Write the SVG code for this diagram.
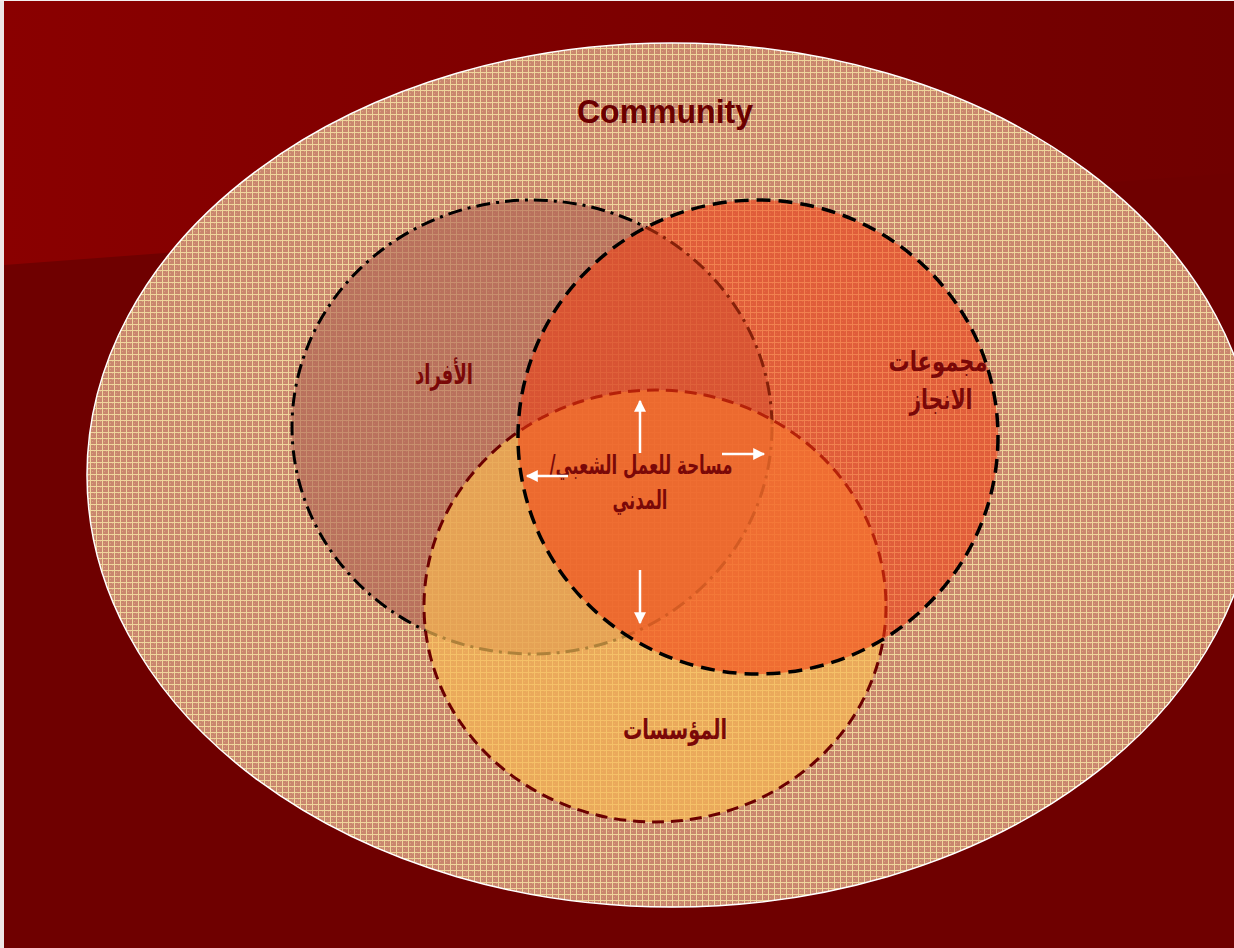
<svg xmlns="http://www.w3.org/2000/svg" width="1234" height="948" viewBox="0 0 1234 948">
  <style>
    .ar { font-family: "DejaVu Sans", "Liberation Sans", sans-serif; font-weight: bold; fill: #7A0808; text-anchor: middle; direction: rtl; }
    .conn { stroke: #FFFFFF; stroke-width: 2.5; fill: none; marker-end: url(#arrow); }
  </style>
  <defs>
    <linearGradient id="topBand" x1="0" y1="0" x2="1" y2="0">
      <stop offset="0" stop-color="#8A0000"/>
      <stop offset="1" stop-color="#700000"/>
    </linearGradient>
    <pattern id="tex" x="0" y="0" width="6" height="6" patternUnits="userSpaceOnUse">
      <rect width="6" height="6" fill="#C9866E"/>
      <rect x="2" y="3" width="1" height="1" fill="#D9A080"/>
      <rect x="4" y="1" width="1" height="1" fill="#D9A080"/>
      <rect x="0" y="0" width="6" height="1" fill="#EFD69C"/>
      <rect x="0" y="0" width="1" height="6" fill="#EFD69C"/>
    </pattern>
    <marker id="arrow" viewBox="0 0 10 10" refX="9" refY="5" markerWidth="13" markerHeight="12" markerUnits="userSpaceOnUse" orient="auto">
      <path d="M0,0 L10,5 L0,10 Z" fill="#FFFFFF"/>
    </marker>
  </defs>

  <g id="background">
    <rect x="0" y="0" width="1234" height="948" fill="#6F0000"/>
    <polygon points="4,0 1234,0 1234,173 4,265" fill="url(#topBand)"/>
    <rect x="0" y="0" width="4" height="948" fill="#EEE6E6"/>
    <rect x="0" y="0" width="1234" height="1" fill="#F4EEEE"/>
  </g>

  <g id="community">
    <ellipse cx="672" cy="475" rx="585" ry="432" fill="url(#tex)" stroke="#FFFFFF" stroke-width="1.5"/>
    <text x="665" y="123" font-family="Liberation Sans, Arial, sans-serif" font-weight="bold" font-size="34" fill="#6B0000" text-anchor="middle" textLength="176" lengthAdjust="spacingAndGlyphs">Community</text>
  </g>

  <g id="node-afrad">
    <ellipse cx="532" cy="427" rx="240" ry="227" fill="#B06453" fill-opacity="0.62" stroke="#000000" stroke-width="3" stroke-dasharray="14 6 3 6"/>
    <text class="ar" x="444" y="384" font-size="28" textLength="58" lengthAdjust="spacingAndGlyphs">الأفراد</text>
  </g>

  <g id="node-muassasat">
    <ellipse cx="655" cy="606" rx="231" ry="216" fill="#F8B852" fill-opacity="0.7" stroke="#6B0000" stroke-width="3" stroke-dasharray="12 7"/>
    <text class="ar" x="675" y="739" font-size="28" textLength="104" lengthAdjust="spacingAndGlyphs">المؤسسات</text>
  </g>

  <g id="node-majmuat">
    <ellipse cx="758" cy="437" rx="240" ry="237" fill="#F23C10" fill-opacity="0.55" stroke="#000000" stroke-width="3.5" stroke-dasharray="14 8"/>
    <text class="ar" x="938" y="371" font-size="28" textLength="99" lengthAdjust="spacingAndGlyphs">مجموعات</text>
    <text class="ar" x="941" y="409" font-size="28" textLength="63" lengthAdjust="spacingAndGlyphs">الانجاز</text>
  </g>

  <g id="node-center">
    <text class="ar" x="641" y="474" font-size="26" textLength="183" lengthAdjust="spacingAndGlyphs">مساحة للعمل الشعبي/&#x200F;</text>
    <text class="ar" x="640" y="509" font-size="26" textLength="55" lengthAdjust="spacingAndGlyphs">المدني</text>
  </g>

  <g id="connectors">
    <line class="conn" x1="640" y1="453" x2="640" y2="401"/>
    <line class="conn" x1="722" y1="454" x2="764" y2="454"/>
    <line class="conn" x1="568" y1="476" x2="527" y2="476"/>
    <line class="conn" x1="640" y1="570" x2="640" y2="623"/>
  </g>
</svg>
